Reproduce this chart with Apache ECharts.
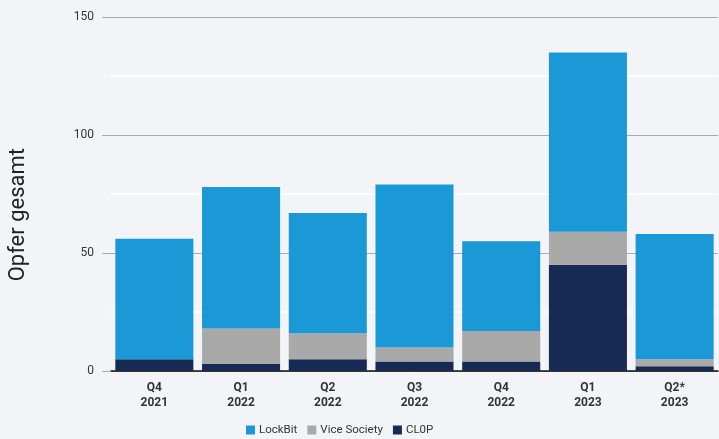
<!DOCTYPE html>
<html><head><meta charset="utf-8">
<script src="https://cdn.jsdelivr.net/npm/echarts@6/dist/echarts.min.js"></script>
<style>html,body{margin:0;padding:0;background:#f3f4f8;}#c{width:719px;height:439px;}</style>
</head><body><div id="c"></div>
<script>
const categories = ['Q4\n2021','Q1\n2022','Q2\n2022','Q3\n2022','Q4\n2022','Q1\n2023','Q2*\n2023'];
const clop = [5, 3, 5, 4, 4, 45, 2];
const viceSociety = [0, 15, 11, 6, 13, 14, 3];
const lockBit = [51, 60, 51, 69, 38, 76, 53];
const yTicks = [0, 50, 100, 150];

const chart = echarts.init(document.getElementById('c'));
chart.setOption({
  backgroundColor: '#f3f4f8',
  textStyle: {fontFamily: 'Roboto'},
  grid: {left: 111, right: 1, top: 17, bottom: 68},
  legend: {
    left: 246, top: 424, padding: 0, itemWidth: 9, itemHeight: 9, itemGap: 10,
    icon: 'rect',
    textStyle: {fontSize: 11.5, color: '#333', fontFamily: 'Roboto', padding: [0, 0, 0, -1]},
    data: ['LockBit', 'Vice Society', 'CL0P']
  },
  graphic: [{
    type: 'text', left: 7, top: 148, rotation: Math.PI/2,
    style: {text: 'Opfer gesamt', fontSize: 22, fill: '#222', fontFamily: 'Roboto'}
  }],
  xAxis: {
    type: 'category', data: categories,
    axisLine: {lineStyle: {color: '#111', width: 1.5}},
    axisTick: {show: false},
    axisLabel: {fontSize: 12, fontWeight: 'bold', color: '#333', lineHeight: 15, margin: 9}
  },
  yAxis: {
    type: 'value', min: yTicks[0], max: yTicks[yTicks.length-1], interval: 50,
    axisLine: {show: false},
    axisTick: {show: true, length: 9, lineStyle: {color: '#aaa'}},
    axisLabel: {fontSize: 12, color: '#333', margin: 17},
    splitLine: {lineStyle: {color: '#aaa', width: 1}},
    minorTick: {show: false, splitNumber: 2},
    minorSplitLine: {show: true, lineStyle: {color: '#ffffff', width: 1.5}}
  },
  series: [
    {name: 'CL0P', type: 'bar', stack: 's', data: clop, itemStyle: {color: '#162a53'}, barCategoryGap: '10%'},
    {name: 'Vice Society', type: 'bar', stack: 's', data: viceSociety, itemStyle: {color: '#a9a9aa'}},
    {name: 'LockBit', type: 'bar', stack: 's', data: lockBit, itemStyle: {color: '#1b99d6'}}
  ]
});
</script></body></html>
